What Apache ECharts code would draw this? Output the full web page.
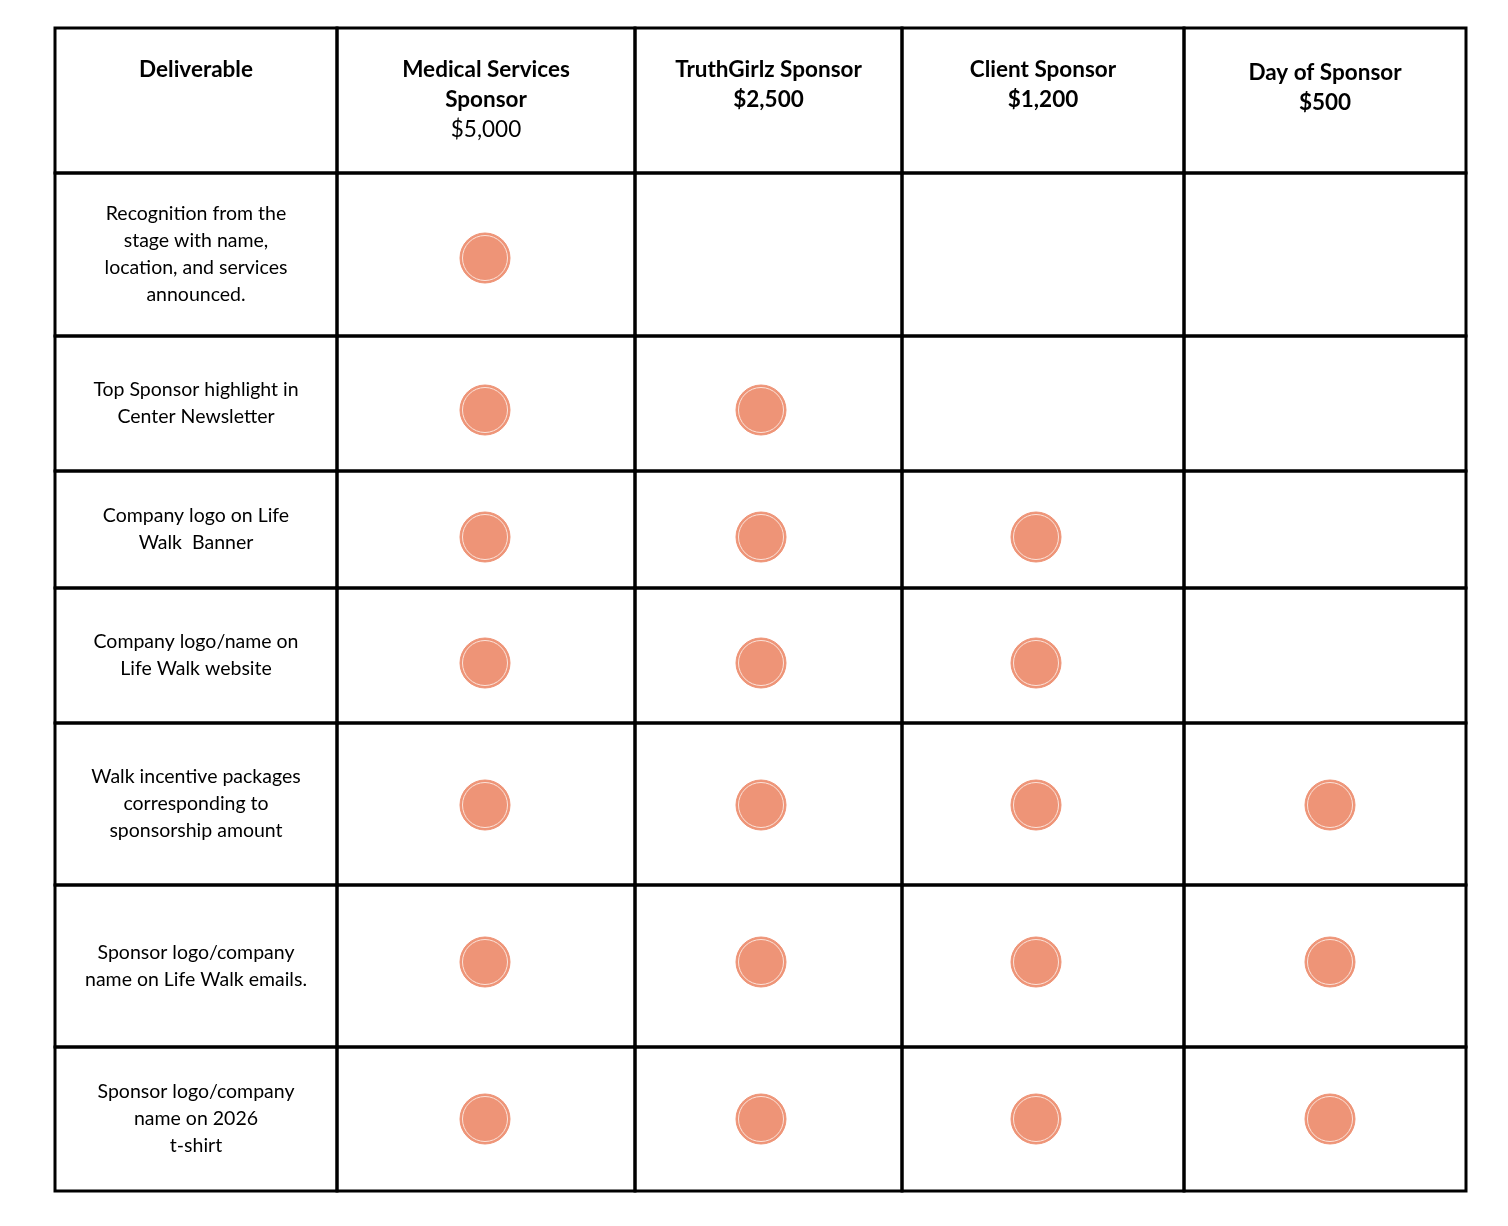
<!DOCTYPE html>
<html>
<head>
<meta charset="utf-8">
<script src="https://cdn.jsdelivr.net/npm/echarts@6/dist/echarts.min.js"></script>
<style>html,body{margin:0;background:#fff}#chart{width:1508px;height:1226px}</style>
</head>
<body>
<div id="chart"></div>
<script>
// 表格数据
var tiers = ['Medical Services\nSponsor', 'TruthGirlz Sponsor', 'Client Sponsor', 'Day of Sponsor'];
var prices = ['$5,000', '$2,500', '$1,200', '$500'];
var deliverables = [
    'Recognition from the\nstage with name,\nlocation, and services\nannounced.',
    'Top Sponsor highlight in\nCenter Newsletter',
    'Company logo on Life\nWalk  Banner',
    'Company logo/name on\nLife Walk website',
    'Walk incentive packages\ncorresponding to\nsponsorship amount',
    'Sponsor logo/company\nname on Life Walk emails.',
    'Sponsor logo/company\nname on 2026\nt-shirt'
];
// 每行包含的赞助等级 (1 = 有)
var included = [
    [1, 0, 0, 0],
    [1, 1, 0, 0],
    [1, 1, 1, 0],
    [1, 1, 1, 0],
    [1, 1, 1, 1],
    [1, 1, 1, 1],
    [1, 1, 1, 1]
];

// 布局 (像素单位的坐标轴)
var colEdges = [0, 282, 580, 847, 1129, 1411];
var rowEdges = [0, 145, 308, 443, 560, 695, 857, 1019, 1163];
var dotX = [430, 706, 981, 1275];
var dotY = [230, 382, 509, 635, 777, 934, 1091];

var cells = [];
for (var r = 0; r < rowEdges.length - 1; r++) {
    for (var c = 0; c < colEdges.length - 1; c++) {
        var label = '', bold = false, sub = '';
        if (r === 0) {
            bold = true;
            if (c === 0) label = 'Deliverable';
            else { label = tiers[c - 1]; sub = prices[c - 1]; }
        } else if (c === 0) {
            label = deliverables[r - 1];
        }
        cells.push([colEdges[c], rowEdges[r], colEdges[c + 1], rowEdges[r + 1], label, sub, bold ? 1 : 0, c]);
    }
}

var dots = [];
included.forEach(function (row, r) {
    row.forEach(function (v, c) {
        if (v) dots.push([dotX[c], dotY[r]]);
    });
});

var myChart = echarts.init(document.getElementById('chart'));
var option = {
    animation: false,
    grid: { left: 55, top: 28, width: 1411, height: 1163 },
    xAxis: { type: 'value', min: 0, max: 1411, show: false },
    yAxis: { type: 'value', min: 0, max: 1163, inverse: true, show: false },
    series: [{
        type: 'custom',
        data: cells,
        renderItem: function (params, api) {
            var p0 = api.coord([api.value(0), api.value(1)]);
            var p1 = api.coord([api.value(2), api.value(3)]);
            var label = cells[params.dataIndex][4];
            var sub = cells[params.dataIndex][5];
            var bold = cells[params.dataIndex][6];
            var cx = (p0[0] + p1[0]) / 2;
            var children = [{
                type: 'rect',
                shape: { x: p0[0], y: p0[1], width: p1[0] - p0[0], height: p1[1] - p0[1] },
                style: { fill: 'none', stroke: '#000', lineWidth: 3 }
            }];
            if (bold) {
                var rich = {
                    b: { fontFamily: 'Lato', fontWeight: 'bold', fontSize: 22.5, lineHeight: 30, fill: '#000' },
                    n: { fontFamily: 'Lato', fontSize: 22.5, lineHeight: 30, fill: '#000' }
                };
                var txt = label.split('\n').map(function (l) { return '{b|' + l + '}'; }).join('\n');
                if (sub) {
                    txt += '\n' + (label === tiers[0] ? '{n|' + sub + '}' : '{b|' + sub + '}');
                }
                var top = p0[1] + 27;
                if (label === tiers[3]) top += 3;
                children.push({
                    type: 'text',
                    style: { text: txt, rich: rich, x: cx, y: top, align: 'center', verticalAlign: 'top' }
                });
            } else if (label) {
                children.push({
                    type: 'text',
                    style: {
                        text: label, x: cx, y: (p0[1] + p1[1]) / 2,
                        align: 'center', verticalAlign: 'middle',
                        fontFamily: 'Lato', fontSize: 19.5, lineHeight: 27, fill: '#000'
                    }
                });
            }
            return { type: 'group', children: children };
        },
        z: 1
    }, {
        type: 'scatter',
        data: dots,
        symbolSize: 50,
        itemStyle: { color: '#EE9477', borderColor: '#EE9477', borderWidth: 1, opacity: 1 },
        z: 3
    }, {
        type: 'scatter',
        data: dots,
        symbolSize: 45,
        silent: true,
        itemStyle: { color: 'transparent', borderColor: '#fbe3da', borderWidth: 1, opacity: 1 },
        z: 4
    }]
};
myChart.setOption(option);
</script>
</body>
</html>
